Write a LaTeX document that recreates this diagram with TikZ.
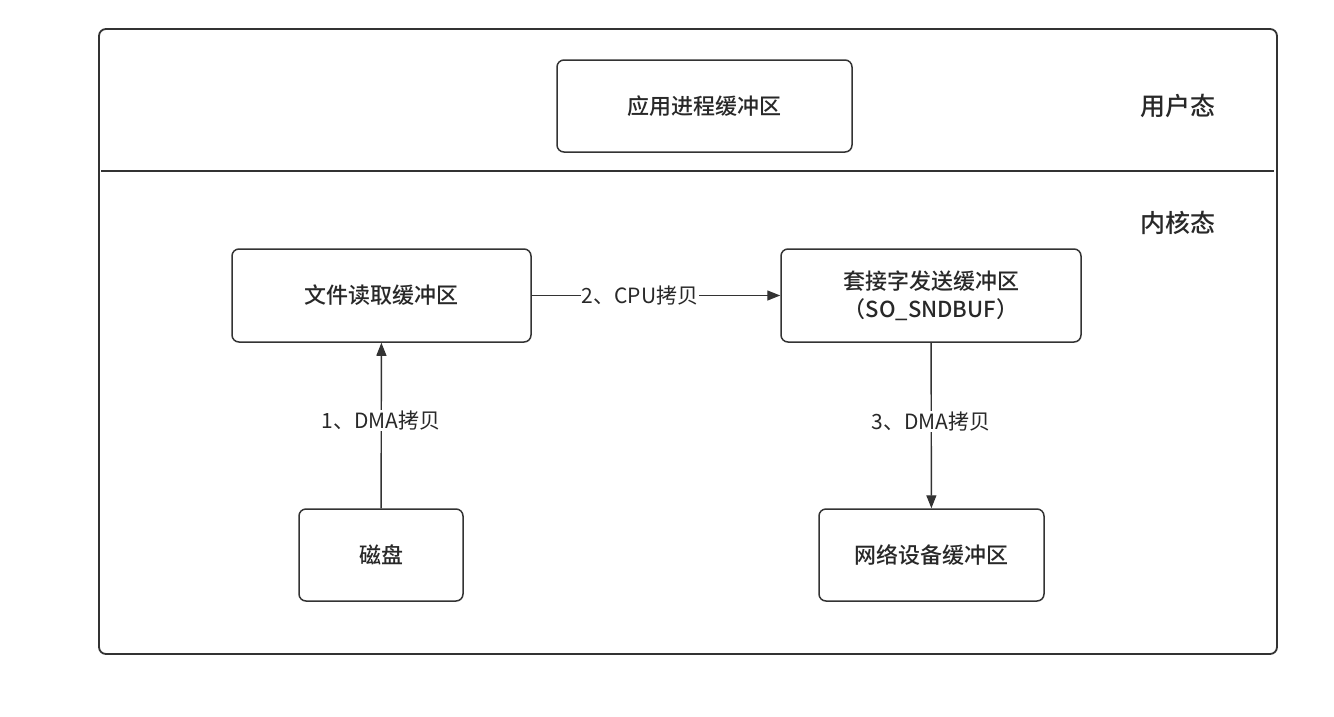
\documentclass[tikz,border=0pt]{standalone}
\usepackage{fontspec}
\setmainfont{Noto Sans CJK SC}[BoldFont={Noto Sans CJK SC Medium}]
\usepackage{tikz}
\usepackage{xcolor}
\usetikzlibrary{arrows.meta,positioning,calc}
\definecolor{LineGray}{RGB}{51,51,51}
\definecolor{TextGray}{RGB}{40,40,40}

\begin{document}
\begin{tikzpicture}[x=1pt, y=-1pt,
  every node/.style={text=TextGray},
  buf/.style={draw=LineGray, line width=1.5pt, rounded corners=7pt, fill=white, align=center,
    inner sep=0pt, font=\fontsize{22}{28}\selectfont\bfseries},
  lbl/.style={fill=white, inner sep=1pt, font=\fontsize{21}{24}\selectfont},
  mode/.style={font=\fontsize{25}{27}\selectfont\bfseries},
  flow/.style={-{Triangle[length=13pt,width=10pt]}, draw=LineGray, line width=1.4pt}]
\useasboundingbox (0,0) rectangle (1334,716);

% frame and split line
\draw[LineGray, line width=1.8pt, rounded corners=7pt] (99,29) rectangle (1277,654);
\draw[LineGray, line width=1.8pt] (101,171) -- (1274,171);
\node[mode] (user) at (1178,106) {用户态};
\node[mode] (kernel) at (1178,223) {内核态};

% buffers
\node[buf, minimum width=295pt, minimum height=92pt] (app) at (704.5,106) {应用进程缓冲区};
\node[buf, minimum width=299pt, minimum height=93pt] (file) at (381.5,295.5) {文件读取缓冲区};
\node[buf, minimum width=300pt, minimum height=93pt] (sock) at (931,295.5) {套接字发送缓冲区\\（SO\_SNDBUF）};
\node[buf, minimum width=164pt, minimum height=92pt] (disk) at (381,555) {磁盘};
\node[buf, minimum width=225pt, minimum height=92pt] (nic) at (931.5,555) {网络设备缓冲区};

% copies
\draw[flow] (disk) -- node[lbl, yshift=5pt] {1、DMA拷贝} (file);
\draw[flow] (file) -- node[lbl, xshift=-16pt] {2、CPU拷贝} (sock);
\draw[flow] (sock) -- node[lbl, yshift=4pt] {3、DMA拷贝} (nic);
\end{tikzpicture}
\end{document}
